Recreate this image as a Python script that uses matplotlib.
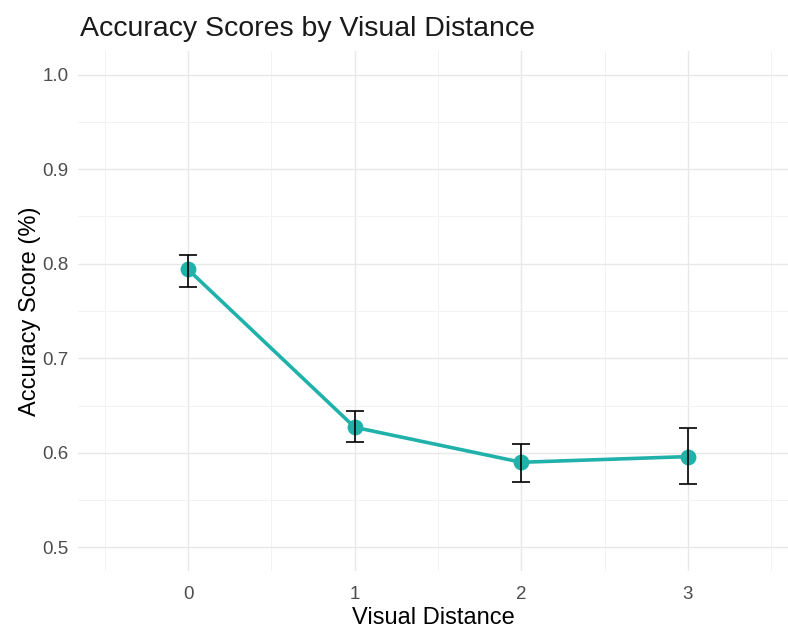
import matplotlib
matplotlib.use("Agg")
import matplotlib.pyplot as plt
from matplotlib.ticker import MultipleLocator

plt.rcParams['font.family'] = ['Liberation Sans', 'DejaVu Sans']

# Mean accuracy per visual distance with error bounds
distance = [0, 1, 2, 3]
accuracy = [0.794, 0.627, 0.590, 0.596]
err_low = [0.775, 0.611, 0.569, 0.567]
err_high = [0.809, 0.644, 0.609, 0.626]

line_color = "#20B2AA"

fig = plt.figure(figsize=(7.88, 6.30), dpi=100)
ax = fig.add_axes([78 / 788, 59 / 630, 710 / 788, 520 / 630])

# grid in the style of a minimal theme
ax.set_xlim(-0.66, 3.6)
ax.set_ylim(0.475, 1.025)
ax.xaxis.set_major_locator(MultipleLocator(1))
ax.xaxis.set_minor_locator(MultipleLocator(0.5))
ax.yaxis.set_major_locator(MultipleLocator(0.1))
ax.yaxis.set_minor_locator(MultipleLocator(0.05))
ax.grid(which="major", color="#e8e8e8", linewidth=1.0)
ax.grid(which="minor", color="#f2f2f2", linewidth=0.7)
ax.set_axisbelow(True)
for s in ax.spines.values():
    s.set_visible(False)
ax.tick_params(which="both", length=0)
ax.tick_params(axis="both", labelsize=13.5, labelcolor="#4d4d4d")
ax.tick_params(axis="y", pad=7)
ax.tick_params(axis="x", pad=11)
ax.set_xticks([0, 1, 2, 3])
ax.set_yticks([0.5, 0.6, 0.7, 0.8, 0.9, 1.0])
ax.set_yticklabels(["0.5", "0.6", "0.7", "0.8", "0.9", "1.0"])

ax.plot(distance, accuracy, color=line_color, linewidth=2.6, zorder=2)
ax.scatter(distance, accuracy, s=130, color=line_color, zorder=3, linewidths=0)
yerr = [[a - l for a, l in zip(accuracy, err_low)],
        [h - a for a, h in zip(accuracy, err_high)]]
ax.errorbar(distance, accuracy, yerr=yerr, fmt="none", ecolor="black",
            elinewidth=1.2, capsize=6.5, capthick=1.2, zorder=4)

ax.set_xlabel("Visual Distance", fontsize=17, color="black", labelpad=3)
ax.set_ylabel("Accuracy Score (%)", fontsize=17, color="black", labelpad=1)
fig.text(80 / 788, 1 - 29 / 630, "Accuracy Scores by Visual Distance",
         fontsize=20.5, ha="left", va="center", color="#1a1a1a")

fig.savefig("out.png", dpi=100)
